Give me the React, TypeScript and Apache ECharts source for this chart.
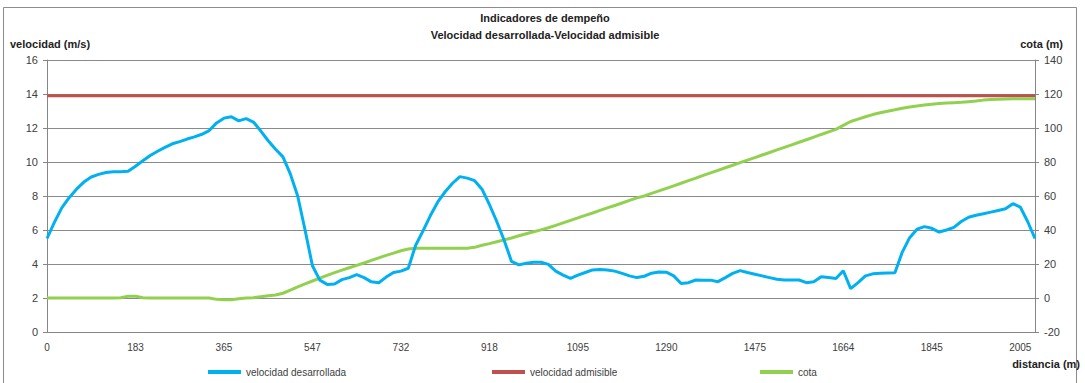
import React, { useEffect, useRef } from "react";
import * as echarts from "echarts";

const distancias: number[] = [
  0, 15, 31, 46, 61, 76, 92, 107, 122, 137, 153, 168,
  183, 198, 213, 229, 244, 259, 274, 289, 304, 320, 335, 350,
  365, 380, 395, 410, 426, 441, 456, 471, 486, 501, 517, 532,
  547, 562, 578, 593, 609, 624, 640, 655, 670, 686, 701, 717,
  732, 748, 763, 779, 794, 810, 825, 841, 856, 872, 887, 903,
  918, 933, 948, 962, 977, 992, 1007, 1021, 1036, 1051, 1066, 1080,
  1095, 1111, 1128, 1144, 1160, 1176, 1193, 1209, 1225, 1241, 1258, 1274,
  1290, 1305, 1321, 1336, 1352, 1367, 1383, 1398, 1413, 1429, 1444, 1460,
  1475, 1491, 1507, 1522, 1538, 1554, 1570, 1585, 1601, 1617, 1633, 1648,
  1664, 1679, 1694, 1709, 1724, 1739, 1755, 1770, 1785, 1800, 1815, 1830,
  1845, 1858, 1872, 1885, 1898, 1912, 1925, 1938, 1952, 1965, 1978, 1992,
  2005, 2018, 2032,
];

const velocidadDesarrollada: number[] = [
  5.5, 6.45, 7.3, 7.9, 8.4, 8.82, 9.12, 9.27, 9.38, 9.43, 9.43, 9.45,
  9.75, 10.07, 10.38, 10.63, 10.86, 11.07, 11.2, 11.35, 11.48, 11.63, 11.85, 12.3,
  12.58, 12.66, 12.42, 12.55, 12.35, 11.82, 11.25, 10.75, 10.3, 9.3, 8.0, 6.0,
  3.9, 3.05, 2.8, 2.82, 3.08, 3.2, 3.38, 3.2, 2.95, 2.9, 3.23, 3.5,
  3.58, 3.75, 5.1, 5.95, 6.85, 7.65, 8.25, 8.75, 9.14, 9.05, 8.9, 8.4,
  7.5, 6.5, 5.4, 4.15, 3.95, 4.04, 4.1, 4.1, 3.98, 3.58, 3.35, 3.16,
  3.35, 3.5, 3.65, 3.68, 3.65, 3.58, 3.45, 3.3, 3.2, 3.28, 3.46, 3.53,
  3.52, 3.3, 2.85, 2.9, 3.06, 3.05, 3.05, 2.96, 3.2, 3.45, 3.61, 3.5,
  3.4, 3.3, 3.2, 3.1, 3.06, 3.06, 3.06, 2.9, 2.95, 3.25, 3.2, 3.15,
  3.6, 2.55, 2.9, 3.3, 3.42, 3.45, 3.47, 3.49, 4.7, 5.55, 6.05, 6.2,
  6.1, 5.88, 6.0, 6.15, 6.5, 6.75, 6.87, 6.96, 7.05, 7.15, 7.25, 7.55,
  7.35, 6.5, 5.5,
];

const cota: number[] = [
  0, 0, 0, 0, 0, 0, 0, 0, 0, 0, 0.2, 1.0,
  1.0, 0.2, 0, 0, 0, 0, 0, 0, 0, 0, 0, -0.8,
  -1.0, -1.0, -0.4, 0, 0.2, 0.8, 1.3, 1.8, 2.8, 4.6, 6.5, 8.3,
  10, 11.7, 13.3, 14.9, 16.4, 17.8, 19.2, 20.6, 22.1, 23.6, 25.1, 26.4,
  27.8, 28.8, 29.2, 29.3, 29.3, 29.3, 29.3, 29.3, 29.3, 29.3, 29.8, 31.0,
  32.0, 33.1, 34.2, 35.3, 36.6, 37.8, 39.0, 40.1, 41.3, 42.7, 44.2, 45.7,
  47.1, 48.6, 50.0, 51.5, 53.0, 54.4, 55.9, 57.4, 58.9, 60.0, 61.5, 63.0,
  64.5, 66.0, 67.5, 69.0, 70.5, 72.1, 73.6, 75.1, 76.6, 78.1, 79.6, 81.1,
  82.6, 84.1, 85.6, 87.1, 88.6, 90.1, 91.6, 93.1, 94.6, 96.2, 97.7, 99.2,
  101.5, 103.8, 105.2, 106.6, 107.9, 109.0, 109.9, 110.7, 111.6, 112.4, 113.0, 113.5,
  114.0, 114.4, 114.7, 114.9, 115.1, 115.5, 115.9, 116.4, 116.7, 116.9, 117.1, 117.2,
  117.2, 117.2, 117.2,
];

const velocidadAdmisible = 13.9;

const titulo = "Indicadores de dempeño";
const subtitulo = "Velocidad desarrollada-Velocidad admisible";
const nombreSerieVel = "velocidad desarrollada";
const nombreSerieAdm = "velocidad admisible";
const nombreSerieCota = "cota";

const FONT = "'Liberation Sans', Arial, sans-serif";

export default function App() {
  const ref = useRef<HTMLDivElement>(null);

  useEffect(() => {
    if (!ref.current) return;
    const chart = echarts.init(ref.current, null, { renderer: "svg" });
    const cats = distancias.map((d) => String(d));
    const last = cats.length - 1;

    const legendBase = {
      top: 362,
      itemWidth: 33,
      itemHeight: 4,
      itemGap: 4,
      icon: "rect",
      textStyle: { fontFamily: FONT, fontSize: 10, color: "#404040" },
    };

    chart.setOption({
      animation: false,
      backgroundColor: "#ffffff",
      textStyle: { fontFamily: FONT },
      grid: { left: 47, right: 50, top: 60, bottom: 51, containLabel: false },
      legend: [
        { ...legendBase, left: 203, data: [nombreSerieVel] },
        { ...legendBase, left: 487, data: [nombreSerieAdm] },
        { ...legendBase, left: 755, data: [nombreSerieCota] },
      ],
      xAxis: {
        type: "category",
        data: cats,
        boundaryGap: false,
        axisLine: { lineStyle: { color: "#868686", width: 1 } },
        axisTick: { show: false },
        axisLabel: {
          interval: 11,
          margin: 10,
          fontFamily: FONT,
          fontSize: 10,
          color: "#404040",
        },
        splitLine: { show: false },
      },
      yAxis: [
        {
          type: "value",
          min: 0,
          max: 16,
          interval: 2,
          position: "left",
          axisLine: { show: true, lineStyle: { color: "#868686" } },
          axisTick: { show: true, length: 4, lineStyle: { color: "#868686" } },
          axisLabel: { margin: 9, fontFamily: FONT, fontSize: 11, color: "#404040" },
          splitLine: { show: true, lineStyle: { color: "#8a8a8a", width: 1 } },
        },
        {
          type: "value",
          min: -20,
          max: 140,
          interval: 20,
          position: "right",
          axisLine: { show: true, lineStyle: { color: "#868686" } },
          axisTick: { show: true, length: 4, lineStyle: { color: "#868686" } },
          axisLabel: { margin: 9, fontFamily: FONT, fontSize: 11, color: "#404040" },
          splitLine: { show: false },
        },
      ],
      series: [
        {
          name: nombreSerieAdm,
          type: "line",
          yAxisIndex: 0,
          data: [
            [cats[0], velocidadAdmisible],
            [cats[last], velocidadAdmisible],
          ],
          symbol: "none",
          lineStyle: { color: "#C0504D", width: 3 },
          itemStyle: { color: "#C0504D" },
          z: 3,
        },
        {
          name: nombreSerieCota,
          type: "line",
          yAxisIndex: 1,
          data: cota,
          symbol: "none",
          lineStyle: { color: "#92D050", width: 3 },
          itemStyle: { color: "#92D050" },
          z: 4,
        },
        {
          name: nombreSerieVel,
          type: "line",
          yAxisIndex: 0,
          data: velocidadDesarrollada,
          symbol: "none",
          lineStyle: { color: "#00B0F0", width: 3 },
          itemStyle: { color: "#00B0F0" },
          z: 5,
        },
      ],
      graphic: [
        {
          type: "rect",
          silent: true,
          shape: { x: 3.5, y: 7.5, width: 1073, height: 400 },
          style: { fill: "none", stroke: "#8c8c8c", lineWidth: 1 },
          z: -10,
        },
        {
          type: "text",
          x: 545,
          y: 12,
          style: {
            text: titulo,
            fontFamily: FONT,
            fontSize: 11,
            fontWeight: "bold",
            fill: "#222",
            align: "center",
          },
        },
        {
          type: "text",
          x: 545,
          y: 29,
          style: {
            text: subtitulo,
            fontFamily: FONT,
            fontSize: 11,
            fontWeight: "bold",
            fill: "#222",
            align: "center",
          },
        },
        {
          type: "text",
          x: 10,
          y: 38,
          style: {
            text: "velocidad (m/s)",
            fontFamily: FONT,
            fontSize: 11,
            fontWeight: "bold",
            fill: "#222",
          },
        },
        {
          type: "text",
          x: 1063,
          y: 38,
          style: {
            text: "cota (m)",
            fontFamily: FONT,
            fontSize: 11,
            fontWeight: "bold",
            fill: "#222",
            align: "right",
          },
        },
        {
          type: "text",
          x: 1080,
          y: 358,
          style: {
            text: "distancia (m)",
            fontFamily: FONT,
            fontSize: 11,
            fontWeight: "bold",
            fill: "#222",
            align: "right",
          },
        },
      ],
    });

    return () => {
      chart.dispose();
    };
  }, []);

  return (
    <div
      ref={ref}
      style={{ position: "fixed", left: 0, top: 0, width: 1085, height: 383 }}
    />
  );
}
